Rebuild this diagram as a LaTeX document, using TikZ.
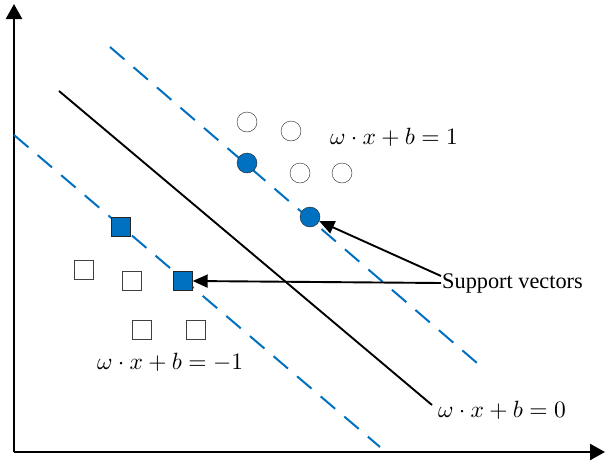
\documentclass[tikz,border=0pt]{standalone}
\usepackage{fontspec}
\setmainfont{Liberation Serif}
\usepackage{graphicx}
\usepackage{tikz}
\usetikzlibrary{positioning, arrows.meta, calc}

\definecolor{svmblue}{RGB}{0,112,192}
\newcommand{\bigeq}[1]{\scalebox{2.35}{$#1$}}

\begin{document}
\begin{tikzpicture}[x=1pt, y=-1pt,
            axis/.style={line width=2.4pt, -{Triangle[length=15pt, width=16pt]}},
            plane/.style={line width=1.9pt},
            margin/.style={line width=2pt, draw=svmblue, dash pattern=on 19pt off 12pt},
            opencirc/.style={draw=black!85, thin, circle, fill=white, minimum size=20pt, inner sep=0pt},
            svcirc/.style={draw=black!85, thin, circle, fill=svmblue, minimum size=20pt, inner sep=0pt},
            opensq/.style={draw=black!75, thin, rectangle, fill=white, minimum size=19pt, inner sep=0pt},
            svsq/.style={draw=black!85, thin, rectangle, fill=svmblue, minimum size=19pt, inner sep=0pt},
            pointer/.style={line width=1.9pt, -{Triangle[length=15pt, width=13pt]}},
            eqlabel/.style={inner sep=1pt}
        ]
        \useasboundingbox (0,0) rectangle (605,461);

        % Achsen
        \coordinate (o) at (14,452);
        \coordinate (ytop) at (14,4);
        \coordinate (xend) at (605,452);
        \draw[axis] (o) -- (ytop);
        \draw[axis] (o) -- (xend);

        % Ebenen
        \coordinate (h0a) at (59,91);
        \coordinate (h0b) at (432,405);
        \coordinate (hpa) at (110,47);
        \coordinate (hpb) at (477,363);
        \coordinate (hma) at (14,135);
        \coordinate (hmb) at (380,447);
        \draw[plane] (h0a) -- (h0b);
        \draw[margin] (hpa) -- (hpb);
        \draw[margin] (hma) -- (hmb);

        % Punkte
        \node[opencirc] (c3) at (247,122) {};
        \node[opencirc] (c4) at (291,131) {};
        \node[opencirc] (c5) at (300,173) {};
        \node[opencirc] (c6) at (342,173) {};
        \node[svcirc] (c1) at (247,163) {};
        \node[svcirc] (c2) at (310,217) {};

        \node[opensq] (s3) at (84,270) {};
        \node[opensq] (s4) at (132,281) {};
        \node[opensq] (s5) at (142,330) {};
        \node[opensq] (s6) at (196,330) {};
        \node[svsq] (s1) at (121,227) {};
        \node[svsq] (s2) at (183,281) {};

        % Beschriftungen
        \node[eqlabel, anchor=west] (eqp) at (329,137) {\bigeq{\omega\cdot x+b=1}};
        \node[eqlabel, anchor=west] (eqm) at (96,362) {\bigeq{\omega\cdot x+b=-1}};
        \node[eqlabel, anchor=west] (eq0) at (437,410) {\bigeq{\omega\cdot x+b=0}};
        \node[font=\fontsize{22.3}{26}\selectfont, anchor=west, inner sep=1pt] (sv) at (441,283) {Support vectors};

        % Pfeile
        \draw[pointer] ([yshift=7pt]sv.west) -- (c2);
        \draw[pointer] (sv.west) -- (s2.east);

    \end{tikzpicture}
\end{document}
